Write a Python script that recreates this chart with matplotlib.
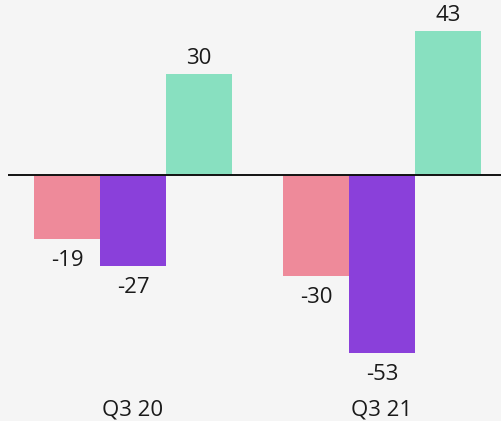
import matplotlib
matplotlib.use("Agg")
import matplotlib.pyplot as plt
import numpy as np

categories = ["Q3 20", "Q3 21"]
series_a = [-19, -30]
series_b = [-27, -53]
series_c = [30, 43]
colors = ["#EE8A9A", "#8A40DA", "#88E0C0"]

plt.rcParams['font.family'] = ['Open Sans', 'DejaVu Sans']

fig = plt.figure(figsize=(5.02, 4.21), dpi=100, facecolor="#F5F5F5")
ax = fig.add_axes([8/502, 0, 494/502, 1])
ax.set_facecolor("#F5F5F5")

x = np.arange(len(categories))
w = 0.265
for i, (vals, col) in enumerate(zip([series_a, series_b, series_c], colors)):
    pos = x + (i - 1) * w
    ax.bar(pos, vals, width=w, color=col, zorder=2)
    for p, v in zip(pos, vals):
        off = 11 if v > 0 else -15.5
        ax.annotate(f"{v}", (p, v), xytext=(0, off), textcoords="offset points",
                    ha="center", va="center", fontsize=16, color="#1A1A1A")

ax.axhline(0, color="#111111", linewidth=1.4, zorder=3)
ax.set_xlim(-0.502, 1.482)
ax.set_ylim(-73.2, 52.1)
for xi, c in zip(x, categories):
    ax.text(xi, -69.9, c, ha="center", va="center", fontsize=16, color="#1A1A1A")
for s in ax.spines.values():
    s.set_visible(False)
ax.set_xticks([])
ax.set_yticks([])

fig.savefig("out.png", dpi=100, facecolor=fig.get_facecolor())
